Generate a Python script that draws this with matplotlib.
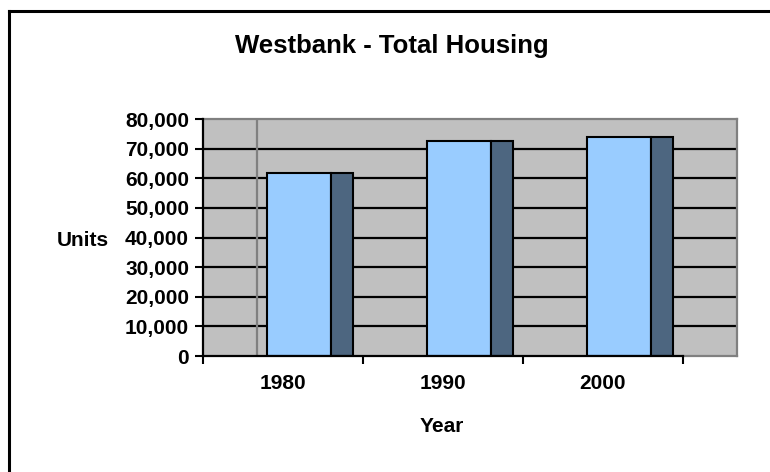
import matplotlib
matplotlib.use("Agg")
import matplotlib.pyplot as plt
from matplotlib.lines import Line2D

years = ["1980", "1990", "2000"]
units = [61700, 72600, 74000]
y_ticks = [0, 10000, 20000, 30000, 40000, 50000, 60000, 70000, 80000]

plt.rcParams['font.family'] = ['Liberation Sans', 'DejaVu Sans']
plt.rcParams['font.weight'] = 'bold'

W, H = 770, 472
fig = plt.figure(figsize=(W / 100, H / 100), dpi=100)
fig.patch.set_facecolor('white')

# chart-area border (only top and left visible)
fig.add_artist(Line2D([9 / W, 9 / W], [0, 1 - 11 / H], transform=fig.transFigure, color='black', lw=2.2))
fig.add_artist(Line2D([9 / W, 1], [1 - 11 / H, 1 - 11 / H], transform=fig.transFigure, color='black', lw=2.2))

left, right, top, bottom = 203, 737, 119, 356
ax = fig.add_axes([left / W, (H - bottom) / H, (right - left) / W, (bottom - top) / H])
ax.set_facecolor('#C0C0C0')
depth = 54 / 160
n = len(years)
ax.set_xlim(0, n + depth)
ax.set_ylim(0, 80000)
for s in ax.spines.values():
    s.set_visible(False)

# gridlines
for v in y_ticks[1:-1]:
    ax.axhline(v, color='black', lw=1.6, zorder=1)
# back wall borders (gray)
ax.plot([0, n + depth], [80000, 80000], color='#808080', lw=1.6, zorder=1, clip_on=False)
ax.plot([n + depth, n + depth], [0, 80000], color='#808080', lw=1.6, zorder=1, clip_on=False)
ax.plot([n, n + depth], [0, 0], color='#808080', lw=1.6, zorder=1, clip_on=False)
ax.plot([depth, depth], [0, 80000], color='#808080', lw=1.6, zorder=1)
# axes lines
ax.plot([0, 0], [0, 80000], color='black', lw=1.6, zorder=5, clip_on=False)
ax.plot([0, n], [0, 0], color='black', lw=1.6, zorder=5, clip_on=False)

cats = [i + 0.5 for i in range(n)]
ax.bar([c - 0.1 for c in cats], units, width=0.4, align='edge',
       color='#99CCFF', edgecolor='black', lw=1.5, zorder=3)
ax.bar([c + 0.3 for c in cats], units, width=0.1375, align='edge',
       color='#4D6680', edgecolor='black', lw=1.5, zorder=3)

ax.set_yticks(y_ticks)
ax.set_yticklabels([f"{v:,}" for v in y_ticks], fontsize=15, fontweight='bold')
ax.tick_params(axis='y', direction='out', length=6, width=1.5, pad=4)

ax.set_xticks(range(n + 1))
ax.set_xticklabels([])
ax.tick_params(axis='x', which='major', direction='out', length=6, width=1.5)
ax.set_xticks(cats, minor=True)
ax.set_xticklabels(years, minor=True, fontsize=15, fontweight='bold')
ax.tick_params(axis='x', which='minor', length=0, pad=13)

fig.text(392 / W, 1 - 46 / H, "Westbank - Total Housing", ha='center', va='center',
         fontsize=18.5, fontweight='bold')
fig.text(83 / W, 1 - 240 / H, "Units", ha='center', va='center', fontsize=15, fontweight='bold')
fig.text(442 / W, 1 - 427 / H, "Year", ha='center', va='center', fontsize=15, fontweight='bold')

fig.savefig("out.png", dpi=100)
